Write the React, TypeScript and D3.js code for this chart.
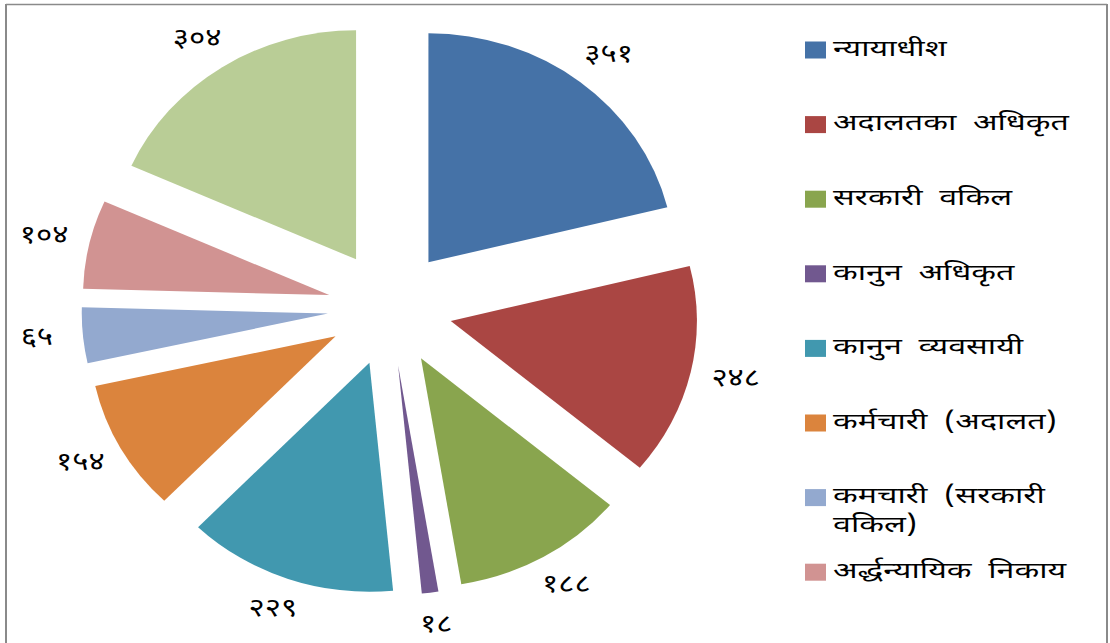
import React from "react";
import * as d3 from "d3";

const values = [351, 248, 188, 18, 229, 154, 65, 104, 304];
const valueLabels = ["३५१", "२४८", "१८८", "१८", "२२९", "१५४", "६५", "१०४", "३०४"];
const colors = ["#4572A7", "#AA4643", "#89A54E", "#71588F", "#4198AF", "#DB843D", "#93A9CF", "#D19392", "#B9CD96"];
const legendLines = [
  ["न्यायाधीश"],
  ["अदालतका  अधिकृत"],
  ["सरकारी  वकिल"],
  ["कानुन  अधिकृत"],
  ["कानुन  व्यवसायी"],
  ["कर्मचारी  (अदालत)"],
  ["कमचारी  (सरकारी", "वकिल)"],
  ["अर्द्धन्यायिक  निकाय"],
];

const W = 1110;
const H = 643;
const cx = 390;
const cy = 308;
const R = 229;
const explode = 58;
const sx = 1.075;
const labelRx = 330 * sx;
const labelRy = 320;
const FONT = "'Noto Sans Devanagari', 'Lohit Devanagari', 'Noto Sans', sans-serif";

export default function App() {
  const pie = d3.pie<number>().sort(null).value((d) => d).startAngle(0).endAngle(2 * Math.PI);
  const arcs = pie(values);
  const arc = d3.arc<d3.PieArcDatum<number>>().innerRadius(0).outerRadius(R);

  return (
    <svg width={W} height={H} style={{ position: "absolute", left: 0, top: 0, background: "#fff" }}>
      <rect x={0} y={0} width={W} height={H} fill="#fff" />
      <line x1={6} y1={4} x2={6} y2={H} stroke="#8a8a8a" strokeWidth={2} />
      <line x1={6} y1={4.5} x2={1107} y2={4.5} stroke="#8a8a8a" strokeWidth={1.5} />
      <line x1={1107} y1={4} x2={1107} y2={H} stroke="#8a8a8a" strokeWidth={2} />
      <g transform={`translate(${cx},${cy}) scale(${sx},1)`}>
        {arcs.map((a, i) => {
          const mid = (a.startAngle + a.endAngle) / 2;
          const ox = Math.sin(mid) * explode;
          const oy = -Math.cos(mid) * explode;
          return (
            <path key={i} d={arc(a) || ""} fill={colors[i]} transform={`translate(${ox},${oy})`} />
          );
        })}
      </g>
      {arcs.map((a, i) => {
        const mid = (a.startAngle + a.endAngle) / 2;
        const x = cx + Math.sin(mid) * labelRx;
        const y = cy - Math.cos(mid) * labelRy;
        return (
          <text key={i} transform={`translate(${x},${y}) scale(1.2,1)`} textAnchor="middle" dominantBaseline="central" fontFamily={FONT} fontSize={26} fill="#000">
            {valueLabels[i]}
          </text>
        );
      })}
      {legendLines.map((lines, i) => {
        const y = 50 + i * 74.6;
        return (
          <g key={i}>
            <rect x={805} y={y - 8.5} width={21} height={17} fill={colors[i]} />
            {lines.map((t, j) => (
              <text key={j} transform={`translate(833,${y + j * 29}) scale(1.4,1)`} dominantBaseline="central" fontFamily={FONT} fontSize={23} fill="#000" style={{ whiteSpace: "pre" }}>
                {t}
              </text>
            ))}
          </g>
        );
      })}
    </svg>
  );
}
